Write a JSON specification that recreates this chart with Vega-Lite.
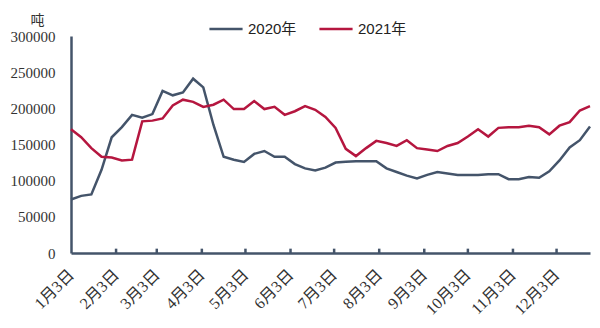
{
  "$schema": "https://vega.github.io/schema/vega-lite/v6.json",
  "width": 519,
  "height": 217,
  "autosize": "none",
  "padding": {"left": 71, "top": 36, "right": 10, "bottom": 75},
  "background": "white",
  "config": {"view": {"stroke": null}},
  "datasets": {
    "stock": [
      {"date": "2021-01-03", "y2020": 74000, "y2021": 171000},
      {"date": "2021-01-10", "y2020": 79000, "y2021": 160000},
      {"date": "2021-01-17", "y2020": 81000, "y2021": 145000},
      {"date": "2021-01-24", "y2020": 115000, "y2021": 133000},
      {"date": "2021-01-31", "y2020": 160000, "y2021": 132000},
      {"date": "2021-02-07", "y2020": 174000, "y2021": 128000},
      {"date": "2021-02-14", "y2020": 191000, "y2021": 129000},
      {"date": "2021-02-21", "y2020": 187000, "y2021": 182000},
      {"date": "2021-02-28", "y2020": 192000, "y2021": 183000},
      {"date": "2021-03-07", "y2020": 224000, "y2021": 186000},
      {"date": "2021-03-14", "y2020": 218000, "y2021": 204000},
      {"date": "2021-03-21", "y2020": 222000, "y2021": 212000},
      {"date": "2021-03-28", "y2020": 241000, "y2021": 209000},
      {"date": "2021-04-04", "y2020": 229000, "y2021": 202000},
      {"date": "2021-04-11", "y2020": 177000, "y2021": 205000},
      {"date": "2021-04-18", "y2020": 133000, "y2021": 212000},
      {"date": "2021-04-25", "y2020": 129000, "y2021": 199000},
      {"date": "2021-05-02", "y2020": 126000, "y2021": 199000},
      {"date": "2021-05-09", "y2020": 137000, "y2021": 210000},
      {"date": "2021-05-16", "y2020": 141000, "y2021": 199000},
      {"date": "2021-05-23", "y2020": 133000, "y2021": 202000},
      {"date": "2021-05-30", "y2020": 133000, "y2021": 191000},
      {"date": "2021-06-06", "y2020": 123000, "y2021": 196000},
      {"date": "2021-06-13", "y2020": 117000, "y2021": 203000},
      {"date": "2021-06-20", "y2020": 114000, "y2021": 198000},
      {"date": "2021-06-27", "y2020": 118000, "y2021": 188000},
      {"date": "2021-07-04", "y2020": 125000, "y2021": 173000},
      {"date": "2021-07-11", "y2020": 126000, "y2021": 144000},
      {"date": "2021-07-18", "y2020": 127000, "y2021": 134000},
      {"date": "2021-07-25", "y2020": 127000, "y2021": 145000},
      {"date": "2021-08-01", "y2020": 127000, "y2021": 155000},
      {"date": "2021-08-08", "y2020": 117000, "y2021": 152000},
      {"date": "2021-08-15", "y2020": 112000, "y2021": 148000},
      {"date": "2021-08-22", "y2020": 107000, "y2021": 156000},
      {"date": "2021-08-29", "y2020": 103000, "y2021": 145000},
      {"date": "2021-09-05", "y2020": 108000, "y2021": 143000},
      {"date": "2021-09-12", "y2020": 112000, "y2021": 141000},
      {"date": "2021-09-19", "y2020": 110000, "y2021": 148000},
      {"date": "2021-09-26", "y2020": 108000, "y2021": 152000},
      {"date": "2021-10-03", "y2020": 108000, "y2021": 161000},
      {"date": "2021-10-10", "y2020": 108000, "y2021": 171000},
      {"date": "2021-10-17", "y2020": 109000, "y2021": 161000},
      {"date": "2021-10-24", "y2020": 109000, "y2021": 173000},
      {"date": "2021-10-31", "y2020": 102000, "y2021": 174000},
      {"date": "2021-11-07", "y2020": 102000, "y2021": 174000},
      {"date": "2021-11-14", "y2020": 105000, "y2021": 176000},
      {"date": "2021-11-21", "y2020": 104000, "y2021": 174000},
      {"date": "2021-11-28", "y2020": 113000, "y2021": 164000},
      {"date": "2021-12-05", "y2020": 128000, "y2021": 176000},
      {"date": "2021-12-12", "y2020": 146000, "y2021": 181000},
      {"date": "2021-12-19", "y2020": 156000, "y2021": 197000},
      {"date": "2021-12-26", "y2020": 175000, "y2021": 203000}
    ],
    "months": [
      {"date": "2021-02-03"}, {"date": "2021-03-03"}, {"date": "2021-04-03"},
      {"date": "2021-05-03"}, {"date": "2021-06-03"}, {"date": "2021-07-03"},
      {"date": "2021-08-03"}, {"date": "2021-09-03"}, {"date": "2021-10-03"},
      {"date": "2021-11-03"}, {"date": "2021-12-03"}
    ]
  },
  "resolve": {"axis": {"x": "independent", "y": "independent"}},
  "layer": [
    {
      "data": {"name": "stock"},
      "transform": [
        {"fold": ["y2020", "y2021"], "as": ["series", "value"]},
        {"calculate": "datum.series == 'y2020' ? '2020年' : '2021年'", "as": "year"}
      ],
      "mark": {"type": "line", "strokeWidth": 2.5},
      "encoding": {
        "x": {
          "field": "date",
          "type": "temporal",
          "scale": {"type": "utc", "domain": [{"year": 2021, "month": 1, "date": 3, "utc": true}, {"year": 2021, "month": 12, "date": 26, "utc": true}], "nice": false},
          "axis": {
            "title": null,
            "values": [
              {"year": 2021, "month": 1, "date": 3, "utc": true},
              {"year": 2021, "month": 2, "date": 3, "utc": true},
              {"year": 2021, "month": 3, "date": 3, "utc": true},
              {"year": 2021, "month": 4, "date": 3, "utc": true},
              {"year": 2021, "month": 5, "date": 3, "utc": true},
              {"year": 2021, "month": 6, "date": 3, "utc": true},
              {"year": 2021, "month": 7, "date": 3, "utc": true},
              {"year": 2021, "month": 8, "date": 3, "utc": true},
              {"year": 2021, "month": 9, "date": 3, "utc": true},
              {"year": 2021, "month": 10, "date": 3, "utc": true},
              {"year": 2021, "month": 11, "date": 3, "utc": true},
              {"year": 2021, "month": 12, "date": 3, "utc": true}
            ],
            "labelExpr": "utcFormat(datum.value, '%-m月%-d日')",
            "labelAngle": -45,
            "labelAlign": "right",
            "labelBaseline": "middle",
            "labelPadding": 19,
            "labelFont": "Liberation Serif, Noto Sans CJK SC",
            "labelFontSize": 16,
            "labelColor": "#333333",
            "labelOverlap": false,
            "labelBound": false,
            "labelFlush": false,
            "grid": false,
            "ticks": false,
            "domainColor": "#44546a",
            "domainWidth": 2.5
          }
        },
        "y": {
          "field": "value",
          "type": "quantitative",
          "scale": {"domain": [0, 300000], "nice": false},
          "axis": {
            "values": [0, 50000, 100000, 150000, 200000, 250000, 300000],
            "format": "d",
            "labelOverlap": false,
            "title": "吨",
            "titleAngle": 0,
            "titleAlign": "center",
            "titleBaseline": "middle",
            "titleX": -34,
            "titleY": -16,
            "titleFont": "Noto Sans CJK SC",
            "titleFontSize": 14,
            "titleFontWeight": "normal",
            "titleColor": "#333333",
            "labelFont": "Liberation Serif",
            "labelFontSize": 15,
            "labelColor": "#333333",
            "labelPadding": 16,
            "ticks": false,
            "grid": false,
            "domainColor": "#44546a",
            "domainWidth": 2.5
          }
        },
        "color": {
          "field": "year",
          "type": "nominal",
          "scale": {"domain": ["2020年", "2021年"], "range": ["#44546a", "#b5163f"]},
          "legend": {
            "title": null,
            "orient": "none",
            "direction": "horizontal",
            "legendX": 137,
            "legendY": -25,
            "symbolType": "stroke",
            "symbolSize": 1100,
            "symbolStrokeWidth": 2.5,
            "labelFont": "Liberation Sans, Noto Sans CJK SC",
            "labelFontSize": 15,
            "labelColor": "#222222",
            "labelOffset": 4,
            "columnPadding": 17
          }
        }
      }
    },
    {
      "data": {"name": "months"},
      "mark": {"type": "rule", "color": "#44546a", "strokeWidth": 2.5},
      "encoding": {
        "x": {"field": "date", "type": "temporal", "axis": null},
        "y": {"datum": 0, "type": "quantitative", "axis": null},
        "y2": {"datum": 6000}
      }
    }
  ]
}
